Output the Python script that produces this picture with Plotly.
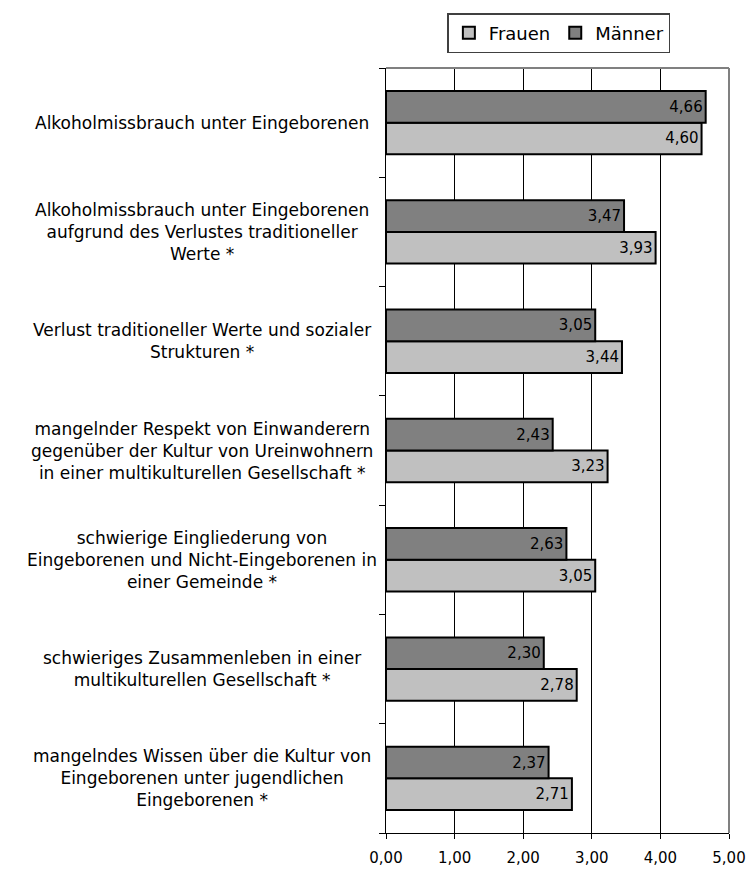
import plotly.graph_objects as go

categories = [
    "Alkoholmissbrauch unter Eingeborenen",
    "Alkoholmissbrauch unter Eingeborenen<br>aufgrund des Verlustes traditioneller<br>Werte *",
    "Verlust traditioneller Werte und sozialer<br>Strukturen *",
    "mangelnder Respekt von Einwanderern<br>gegenüber der Kultur von Ureinwohnern<br>in einer multikulturellen Gesellschaft *",
    "schwierige Eingliederung von<br>Eingeborenen und Nicht-Eingeborenen in<br>einer Gemeinde *",
    "schwieriges Zusammenleben in einer<br>multikulturellen Gesellschaft *",
    "mangelndes Wissen über die Kultur von<br>Eingeborenen unter jugendlichen<br>Eingeborenen *",
]
frauen = [4.60, 3.93, 3.44, 3.23, 3.05, 2.78, 2.71]
maenner = [4.66, 3.47, 3.05, 2.43, 2.63, 2.30, 2.37]
x_ticks = [0, 1, 2, 3, 4, 5]
x_ticklabels = ["0,00", "1,00", "2,00", "3,00", "4,00", "5,00"]

FONT = "DejaVu Sans"

def fmt(v):
    return f"{v:.2f}".replace(".", ",")

fig = go.Figure()
fig.add_trace(go.Bar(
    name="Frauen", y=categories, x=frauen, orientation="h",
    marker=dict(color="#C0C0C0", line=dict(color="#000000", width=2)),
    text=[fmt(v) for v in frauen], textposition="inside", insidetextanchor="end",
    textangle=0, constraintext="none",
    textfont=dict(family=FONT, size=15, color="#000000"),
))
fig.add_trace(go.Bar(
    name="Männer", y=categories, x=maenner, orientation="h",
    marker=dict(color="#808080", line=dict(color="#000000", width=2)),
    text=[fmt(v) for v in maenner], textposition="inside", insidetextanchor="end",
    textangle=0, constraintext="none",
    textfont=dict(family=FONT, size=15, color="#000000"),
))

for c in categories:
    fig.add_annotation(
        x=-0.536, xref="paper", y=c, yref="y", text=c, showarrow=False,
        xanchor="center", yanchor="middle", align="center",
        font=dict(family=FONT, size=17, color="#000000"),
    )

# gray plot-area frame (top and right)
fig.add_shape(type="line", xref="paper", yref="paper", x0=0, x1=1, y0=1, y1=1,
              line=dict(color="#808080", width=2))
fig.add_shape(type="line", xref="paper", yref="paper", x0=1, x1=1, y0=0, y1=1,
              line=dict(color="#808080", width=2))

fig.update_layout(
    width=749, height=874,
    margin=dict(l=386, r=20, t=68, b=41, autoexpand=False),
    paper_bgcolor="white", plot_bgcolor="white",
    barmode="group", bargap=0.42, bargroupgap=0,
    font=dict(family=FONT, size=14, color="#000000"),
    showlegend=True,
    legend=dict(
        orientation="h", x=0.504, xanchor="center",
        y=1 - 13 / 874, yanchor="top", yref="container",
        bordercolor="#404040", borderwidth=1.5, bgcolor="white",
        font=dict(family=FONT, size=18, color="#000000"),
        itemwidth=30, tracegroupgap=0,
    ),
    xaxis=dict(
        range=[0, 5], tickmode="array", tickvals=x_ticks, ticktext=x_ticklabels,
        showgrid=True, gridcolor="#000000", gridwidth=1,
        showline=True, linecolor="#000000", linewidth=1,
        ticks="outside", ticklen=5, tickcolor="#000000",
        ticklabelstandoff=6,
        zeroline=False, fixedrange=True,
        tickfont=dict(family=FONT, size=15, color="#000000"),
    ),
    yaxis=dict(
        categoryorder="array", categoryarray=list(reversed(categories)),
        showticklabels=False, tickson="boundaries",
        ticks="outside", ticklen=6, tickcolor="#000000",
        showline=True, linecolor="#000000", linewidth=1,
        showgrid=False, zeroline=False, fixedrange=True,
    ),
)

fig.write_html(
    "out.html",
    config={"displayModeBar": False},
    post_script="document.body.style.margin='0';document.body.style.padding='0';",
)
